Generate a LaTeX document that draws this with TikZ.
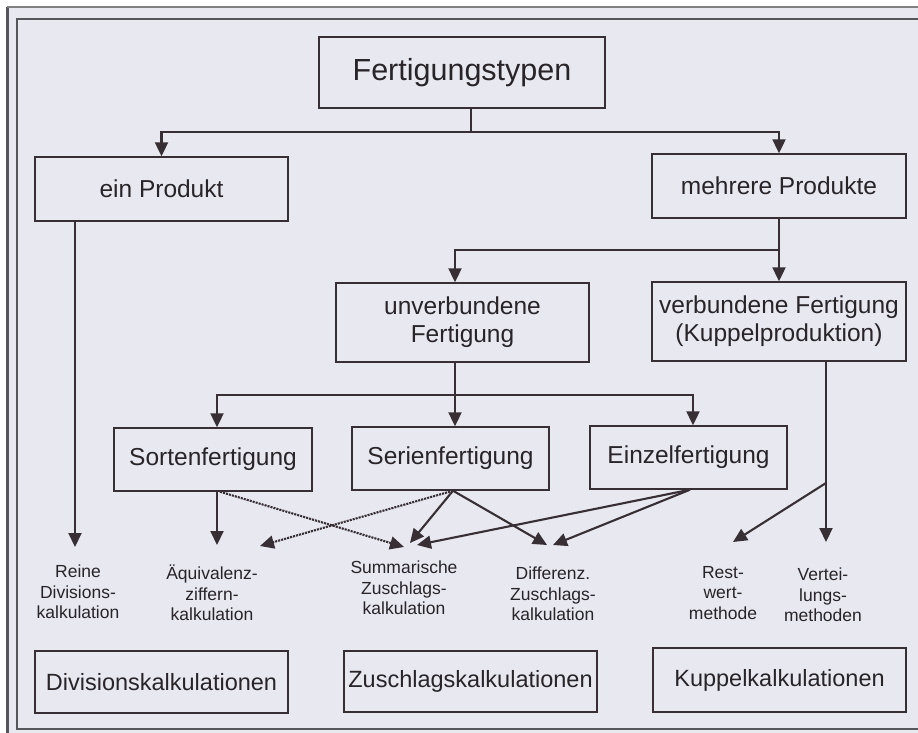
\documentclass[tikz,border=0pt]{standalone}
\usepackage{fontspec}
\setmainfont{Liberation Sans}
\usetikzlibrary{arrows.meta,calc}
\definecolor{pagebg}{RGB}{232,232,241}
\definecolor{ink}{RGB}{55,47,52}
\definecolor{txt}{RGB}{40,36,40}
\definecolor{framecol}{RGB}{85,85,90}
\begin{document}
\begin{tikzpicture}[x=1pt,y=-1pt,
  box/.style={draw=ink,line width=1.4pt,inner sep=0pt,align=center,text=txt,font=\fontsize{24.5}{28}\selectfont},
  lbl/.style={inner sep=0pt,align=center,text=txt,font=\fontsize{17.5}{20.5}\selectfont},
  conn/.style={draw=ink,line width=2.1pt},
  arr/.style={conn,-{Triangle[length=14pt,width=13pt]}},
  dotarr/.style={arr,densely dotted}]
\useasboundingbox (0,0) rectangle (918,733);
% page
\fill[white] (0,0) rectangle (918,733);
\fill[pagebg] (7,7) rectangle (918,733);
\draw[framecol,line width=3pt] (7,733) -- (7,7);
\draw[gray,line width=1.5pt] (7,7) -- (918,7);
\draw[framecol,line width=1.3pt] (918,19) -- (17,19) -- (17,729) -- (918,729);
% boxes
\node[box,minimum width=286,minimum height=71,font=\fontsize{30.5}{34}\selectfont] (typ) at (462,72.5) {Fertigungstypen};
\node[box,minimum width=253,minimum height=64] (ein) at (161.5,189) {ein Produkt};
\node[box,minimum width=254,minimum height=64] (mehr) at (779,186) {mehrere Produkte};
\node[box,minimum width=253,minimum height=79] (unv) at (462.5,322.5) {unverbundene\\Fertigung};
\node[box,minimum width=254,minimum height=79] (verb) at (779,321.5) {verbundene Fertigung\\(Kuppelproduktion)};
\node[box,minimum width=198,minimum height=63] (sort) at (213,459.5) {Sortenfertigung};
\node[box,minimum width=197,minimum height=63] (seri) at (450.5,458.5) {Serienfertigung};
\node[box,minimum width=197,minimum height=63] (einz) at (688.5,457.5) {Einzelfertigung};
\node[box,minimum width=253,minimum height=62,font=\fontsize{23.5}{27}\selectfont] (divk) at (161.5,682) {Divisionskalkulationen};
\node[box,minimum width=253,minimum height=61,font=\fontsize{23.5}{27}\selectfont] (zusk) at (470.5,681.5) {Zuschlagskalkulationen};
\node[box,minimum width=253,minimum height=64,font=\fontsize{23.5}{27}\selectfont] (kupk) at (779.5,680) {Kuppelkalkulationen};
% labels
\node[lbl] (reine) at (78,592) {Reine\\Divisions-\\kalkulation};
\node[lbl] (aequ) at (212,593) {Äquivalenz-\\ziffern-\\kalkulation};
\node[lbl] (summ) at (404,588) {Summarische\\Zuschlags-\\kalkulation};
\node[lbl] (diff) at (553,594) {Differenz.\\Zuschlags-\\kalkulation};
\node[lbl] (rest) at (723,593) {Rest-\\wert-\\methode};
\node[lbl] (vert) at (823,595) {Vertei-\\lungs-\\methoden};
% top level
\coordinate (j1) at (471,132);
\draw[conn] (typ.south -| j1) -- (j1);
\draw[arr] (j1) -| (ein.north);
\draw[arr] (j1) -| (mehr.north);
% mehrere Produkte
\coordinate (j2) at (779,250);
\coordinate (u1) at (455,250);
\draw[arr] (mehr.south) -- (verb.north);
\draw[arr] (j2) -- (u1) -- (u1 |- unv.north);
% unverbundene Fertigung
\coordinate (j3) at (455,395);
\coordinate (cS) at (217,395);
\coordinate (cE) at (693,395);
\draw[conn] (unv.south -| j3) -- (j3);
\draw[arr] (j3) -- (j3 |- seri.north);
\draw[arr] (j3) -- (cS) -- (cS |- sort.north);
\draw[arr] (j3) -- (cE) -- (cE |- einz.north);
% tips
\coordinate (tR) at (75,547);
\coordinate (tA1) at (217,545);
\coordinate (tA2) at (260,546);
\coordinate (tS1) at (404,547);
\coordinate (tS2) at (410,543);
\coordinate (tS3) at (417,545);
\coordinate (tD1) at (547,545);
\coordinate (tD2) at (553,545);
\coordinate (tRest) at (733,542);
\coordinate (tV) at (826,542);
\coordinate (j4) at (826,483);
\coordinate (sB) at ([xshift=7pt]sort.south);
\coordinate (seB) at ([xshift=2.5pt]seri.south);
\coordinate (einB) at ([xshift=1.5pt]einz.south);
% lower connectors
\draw[arr] (ein.south -| tR) -- (tR);
\draw[arr] (sort.south -| tA1) -- (tA1);
\draw[dotarr] (sB) -- (tS1);
\draw[dotarr] (seB) -- (tA2);
\draw[arr] (seB) -- (tS2);
\draw[arr] (seB) -- (tD1);
\draw[arr] (einB) -- (tS3);
\draw[arr] (einB) -- (tD2);
\draw[arr] (verb.south -| tV) -- (tV);
\draw[arr] (j4) -- (tRest);
\end{tikzpicture}
\end{document}
